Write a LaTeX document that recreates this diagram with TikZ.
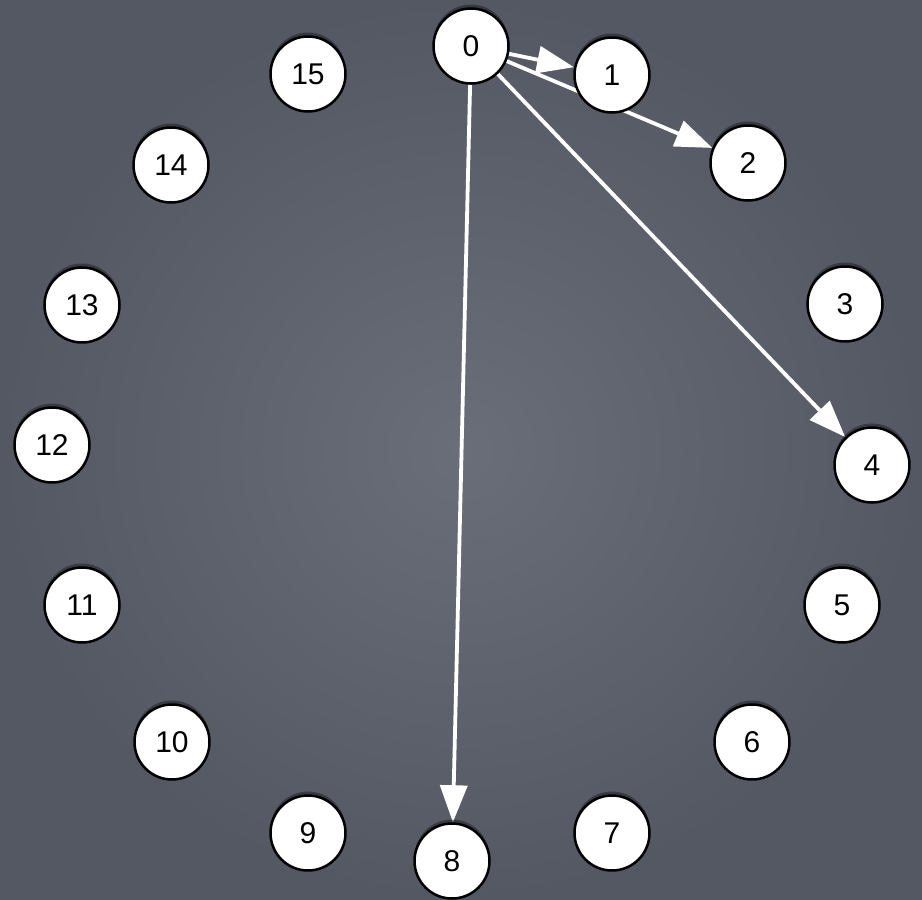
\documentclass[tikz,border=0pt]{standalone}
\usepackage{fontspec}
\setmainfont{Liberation Sans}
\usetikzlibrary{arrows.meta,shadows}
\pgfdeclarelayer{bg}
\pgfdeclarelayer{edges}
\pgfsetlayers{bg,edges,main}
\definecolor{boardin}{RGB}{106,110,121}
\definecolor{boardout}{RGB}{84,88,99}
\tikzset{
  vert/.style={circle, draw=black, line width=2.5pt, fill=white,
    minimum size=75pt, inner sep=0pt,
    font=\fontsize{30pt}{34pt}\selectfont,
    drop shadow={shadow xshift=0pt, shadow yshift=4pt, opacity=0.35, fill=black}},
  arr/.style={draw=white, line width=3.8pt,
    -{Triangle[length=37pt,width=27pt,fill=white]}}
}
\begin{document}
\begin{tikzpicture}[x=1pt,y=-1pt]
\begin{pgfonlayer}{bg}
  \fill[inner color=boardin, outer color=boardout] (0,0) rectangle (922,900);
\end{pgfonlayer}
\useasboundingbox (0,0) rectangle (922,900);
\node[vert] (n0) at (471,46) {0};
\node[vert] (n1) at (612,75) {1};
\node[vert] (n2) at (748,163) {2};
\node[vert] (n3) at (845,304) {3};
\node[vert] (n4) at (872,465) {4};
\node[vert] (n5) at (842,605) {5};
\node[vert] (n6) at (752,742) {6};
\node[vert] (n7) at (612,833) {7};
\node[vert] (n8) at (452,861) {8};
\node[vert] (n9) at (308,833) {9};
\node[vert] (n10) at (172,742) {10};
\node[vert] (n11) at (82,605) {11};
\node[vert] (n12) at (52,445) {12};
\node[vert] (n13) at (82,305) {13};
\node[vert] (n14) at (171,165) {14};
\node[vert] (n15) at (308,74) {15};
\begin{pgfonlayer}{edges}
  \draw[arr] (n0) -- (n1);
  \draw[arr] (n0) -- (n2);
  \draw[arr] (n0) -- (n4);
  \draw[arr] (n0) -- (n8);
\end{pgfonlayer}
\end{tikzpicture}
\end{document}
